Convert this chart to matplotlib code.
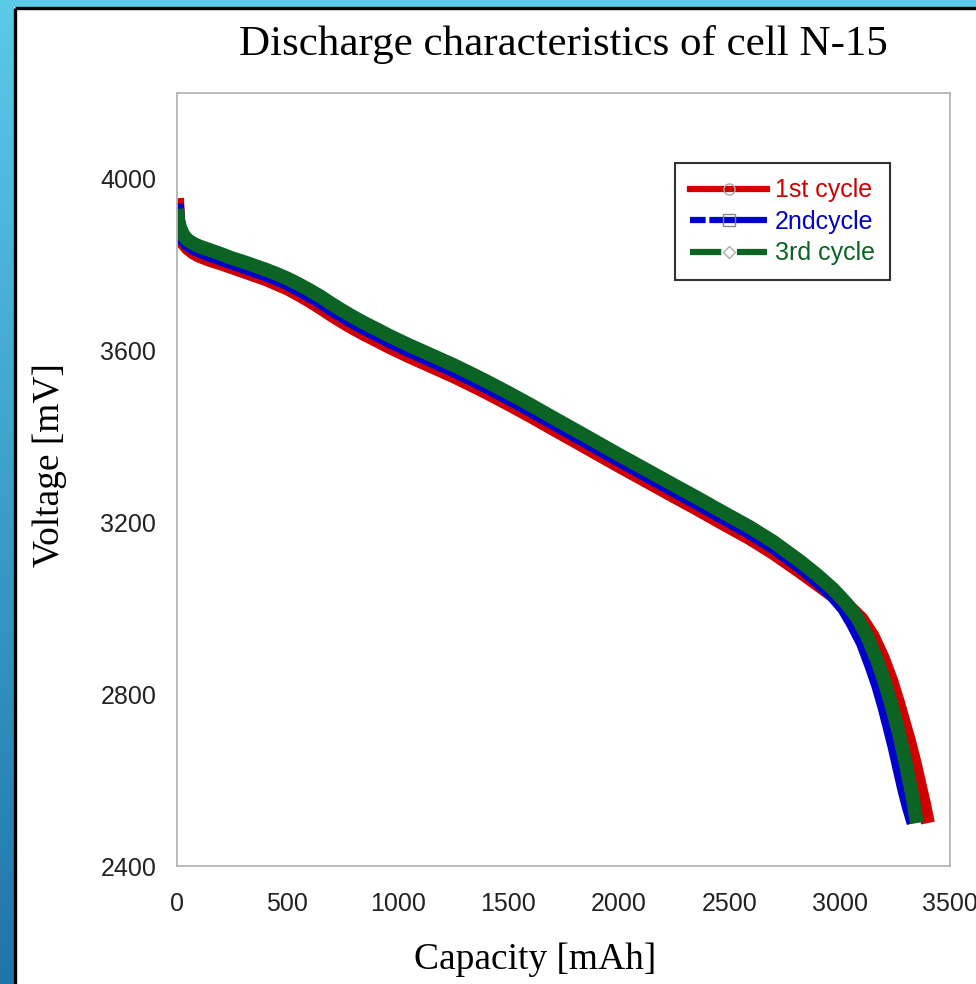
import numpy as np
import matplotlib.pyplot as plt
from matplotlib.lines import Line2D

# Discharge curves of cell N-15
cap_1st = [0, 5, 15, 30, 50, 75, 100, 150, 200, 250, 300, 350, 400, 450, 500,
           550, 600, 650, 700, 750, 800, 850, 900, 964, 1050, 1150, 1250, 1326,
           1400, 1500, 1600, 1689, 1800, 1900, 2000, 2141, 2250, 2350, 2450,
           2594, 2700, 2820, 2900, 2970, 3040, 3100, 3150, 3195, 3235, 3265,
           3290, 3315, 3340, 3362, 3382, 3400]
volt_1st = [3955, 3905, 3870, 3850, 3838, 3828, 3821, 3811, 3803, 3794, 3785,
            3776, 3767, 3756, 3745, 3731, 3716, 3700, 3683, 3667, 3652, 3638,
            3625, 3608, 3587, 3564, 3541, 3522, 3503, 3476, 3448, 3422, 3390,
            3361, 3332, 3292, 3261, 3233, 3204, 3163, 3129, 3086, 3056, 3030,
            3005, 2975, 2935, 2885, 2830, 2780, 2735, 2690, 2640, 2590, 2545,
            2500]

cap_2nd = [0, 5, 15, 30, 50, 75, 100, 150, 200, 250, 300, 350, 400, 450, 500,
           550, 600, 650, 700, 750, 800, 850, 900, 964, 1050, 1150, 1250, 1326,
           1400, 1500, 1600, 1689, 1800, 1900, 2000, 2141, 2250, 2350, 2450,
           2594, 2700, 2820, 2900, 2970, 3020, 3060, 3105, 3145, 3175, 3203,
           3228, 3250, 3272, 3292, 3312, 3335]
volt_2nd = [3942, 3900, 3875, 3858, 3847, 3839, 3833, 3823, 3814, 3805, 3796,
            3787, 3778, 3768, 3757, 3743, 3729, 3714, 3697, 3681, 3666, 3652,
            3639, 3622, 3601, 3578, 3555, 3536, 3517, 3490, 3462, 3436, 3404,
            3375, 3346, 3306, 3275, 3247, 3218, 3177, 3143, 3098, 3064, 3030,
            3000, 2965, 2920, 2865, 2820, 2770, 2720, 2675, 2625, 2580, 2540,
            2500]

cap_3rd = [0, 5, 15, 30, 50, 75, 100, 150, 200, 250, 300, 350, 400, 450, 500,
           550, 600, 650, 700, 750, 800, 850, 900, 964, 1050, 1150, 1250, 1326,
           1400, 1500, 1600, 1689, 1800, 1900, 2000, 2141, 2250, 2350, 2450,
           2594, 2700, 2820, 2900, 2970, 3030, 3078, 3125, 3169, 3200, 3228,
           3252, 3273, 3296, 3318, 3335, 3350]
volt_3rd = [3930, 3905, 3885, 3868, 3857, 3849, 3843, 3834, 3825, 3815, 3807,
            3798, 3789, 3779, 3768, 3755, 3741, 3726, 3709, 3693, 3678, 3664,
            3651, 3634, 3613, 3590, 3567, 3548, 3529, 3502, 3474, 3448, 3416,
            3387, 3358, 3318, 3287, 3259, 3230, 3189, 3155, 3110, 3077, 3045,
            3012, 2980, 2935, 2880, 2835, 2787, 2742, 2700, 2647, 2593, 2548,
            2500]

labels = ["1st cycle", "2ndcycle", "3rd cycle"]
colors = ["#d00000", "#0000cc", "#0b6423"]
xticks = [0, 500, 1000, 1500, 2000, 2500, 3000, 3500]
yticks = [2400, 2800, 3200, 3600, 4000]

fig = plt.figure(figsize=(9.76, 9.84), dpi=100)

# slide background: blue gradient strips and black frame edge
bg = fig.add_axes([0, 0, 1, 1], zorder=-1)
bg.set_xlim(0, 976)
bg.set_ylim(984, 0)
bg.axis("off")
grad = np.linspace(0, 1, 256)[:, None]
top_c = np.array([0.36, 0.79, 0.91])
bot_c = np.array([0.12, 0.46, 0.66])
img = top_c[None, None, :] * (1 - grad[:, :, None]) + bot_c[None, None, :] * grad[:, :, None]
bg.imshow(img, extent=(0, 14, 984, 0), aspect="auto")
bg.imshow(np.tile(top_c, (1, 2, 1)), extent=(0, 976, 7, 0), aspect="auto")
bg.plot([14.5, 14.5], [984, 7.5], color="black", lw=2.4, solid_capstyle="butt")
bg.plot([14.5, 976], [7.5, 7.5], color="black", lw=2.4, solid_capstyle="butt")

ax = fig.add_axes([177 / 976, 1 - 866 / 984, 773 / 976, 773 / 984])
series = [(cap_1st, volt_1st), (cap_2nd, volt_2nd), (cap_3rd, volt_3rd)]
for (x, y), c in zip(series, colors):
    ax.plot(x, y, color=c, lw=10, solid_joinstyle="round", solid_capstyle="butt")

ax.set_xlim(0, 3500)
ax.set_ylim(2400, 4200)
ax.set_xticks(xticks)
ax.set_yticks(yticks)
ax.tick_params(length=0, labelsize=18, colors="#222222")
ax.tick_params(axis="x", pad=19)
ax.tick_params(axis="y", pad=15)
for lab in ax.get_xticklabels() + ax.get_yticklabels():
    lab.set_fontfamily("Liberation Sans")
for s in ax.spines.values():
    s.set_color("#b4b4b4")
    s.set_linewidth(1.3)

ax.set_xlabel("Capacity [mAh]", fontsize=27, family="Liberation Serif")
ax.xaxis.set_label_coords(0.463, -0.121)
ax.xaxis.label.set_va("center")
ax.set_ylabel("Voltage [mV]", fontsize=27, family="Liberation Serif")
ax.yaxis.set_label_coords(-0.164, 0.519)
ax.yaxis.label.set_va("center")

fig.text(563 / 976, 1 - 45 / 984, "Discharge characteristics of cell N-15",
         fontsize=31, family="Liberation Serif", ha="center", va="center")

handles = [
    Line2D([], [], color=colors[0], lw=4.5, marker="o", ms=8, mfc="none", mec="#aaaaaa"),
    Line2D([], [], color=colors[1], lw=4.5, ls=(0, (2.5, 0.6, 12, 0.1)), marker="s", ms=8, mfc="none", mec="#888888"),
    Line2D([], [], color=colors[2], lw=4.5, ls=(0, (5, 2.5)), marker="D", ms=6, mfc="white", mec="#aaaaaa"),
]
leg = ax.legend(handles, labels, loc="upper left", bbox_to_anchor=(0.644, 0.909),
                prop={"family": "Liberation Sans", "size": 18}, frameon=True,
                fancybox=False, edgecolor="black", handlelength=3.1,
                handletextpad=0.3, labelspacing=0.3, borderpad=0.6,
                borderaxespad=0)
leg.get_frame().set_linewidth(1.5)
for t, c in zip(leg.get_texts(), colors):
    t.set_color(c)

fig.savefig("out.png", dpi=100)
